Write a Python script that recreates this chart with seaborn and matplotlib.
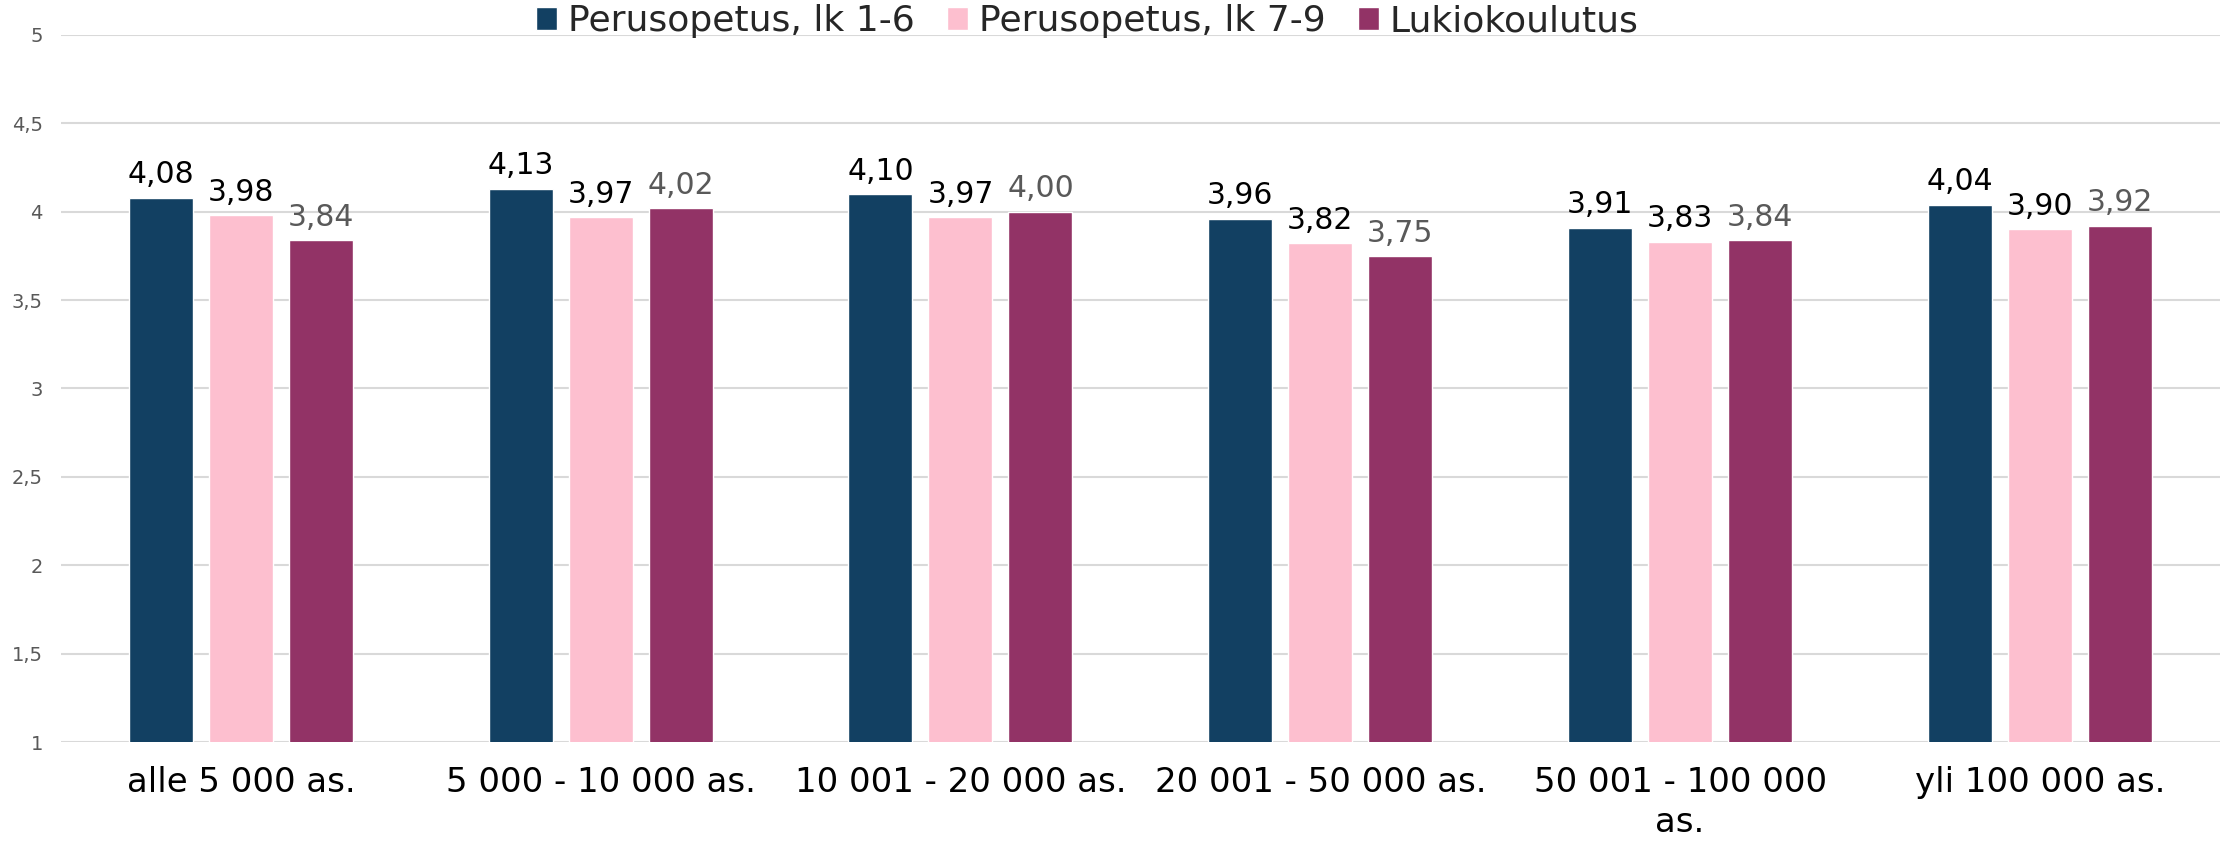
import matplotlib

matplotlib.use("Agg")
import matplotlib.pyplot as plt
import pandas as pd
import seaborn as sns

# Data
categories = [
    "alle 5 000 as.",
    "5 000 - 10 000 as.",
    "10 001 - 20 000 as.",
    "20 001 - 50 000 as.",
    "50 001 - 100 000\nas.",
    "yli 100 000 as.",
]
series_names = ["Perusopetus, lk 1-6", "Perusopetus, lk 7-9", "Lukiokoulutus"]
perus_1_6 = [4.08, 4.13, 4.10, 3.96, 3.91, 4.04]
perus_7_9 = [3.98, 3.97, 3.97, 3.82, 3.83, 3.90]
lukio = [3.84, 4.02, 4.00, 3.75, 3.84, 3.92]
y_ticks = [1, 1.5, 2, 2.5, 3, 3.5, 4, 4.5, 5]

colors = ["#124062", "#fdbfcf", "#923366"]
label_colors = ["#000000", "#000000", "#595959"]

df = pd.DataFrame(
    {
        "kunta": categories * 3,
        "sarja": [series_names[0]] * 6 + [series_names[1]] * 6 + [series_names[2]] * 6,
        "arvo": perus_1_6 + perus_7_9 + lukio,
    }
)

sns.set_theme(style="white")
plt.rcParams["font.family"] = ["DejaVu Sans"]

fig = plt.figure(figsize=(22.24, 8.5), dpi=100)
ax = fig.add_axes([0.0274, 0.127, 0.9707, 0.832])

sns.barplot(
    data=df,
    x="kunta",
    y="arvo",
    hue="sarja",
    palette=colors,
    width=0.667,
    gap=0.2,
    saturation=1,
    legend=True,
    ax=ax,
    zorder=2,
)

for cont, col in zip(ax.containers, label_colors):
    labels = [f"{b.get_height():.2f}".replace(".", ",") for b in cont]
    ax.bar_label(cont, labels=labels, padding=6, fontsize=21.5, color=col)

ax.set_ylim(1, 5)
ax.set_xlim(-0.5, 5.5)
ax.set_yticks(y_ticks)
ax.set_yticklabels(
    [f"{t:g}".replace(".", ",") for t in y_ticks], fontsize=14, color="#595959"
)
for lbl in ax.get_xticklabels():
    lbl.set_linespacing(1.3)
ax.tick_params(axis="x", labelsize=24.5, colors="black", pad=17, length=0)
ax.tick_params(axis="y", length=0, pad=13)
ax.yaxis.grid(True, color="#d9d9d9", linewidth=1.5, zorder=0)
ax.set_axisbelow(True)
ax.set_xlabel("")
ax.set_ylabel("")
for s in ax.spines.values():
    s.set_visible(False)

handles, labels = ax.get_legend_handles_labels()
ax.get_legend().remove()
fig.legend(
    handles,
    labels,
    loc="center",
    bbox_to_anchor=(0.489, 0.975),
    ncol=3,
    frameon=False,
    fontsize=26,
    handlelength=0.58,
    handleheight=0.58,
    handletextpad=0.3,
    columnspacing=0.9,
    borderpad=0,
)

fig.savefig("out.png", dpi=100)
